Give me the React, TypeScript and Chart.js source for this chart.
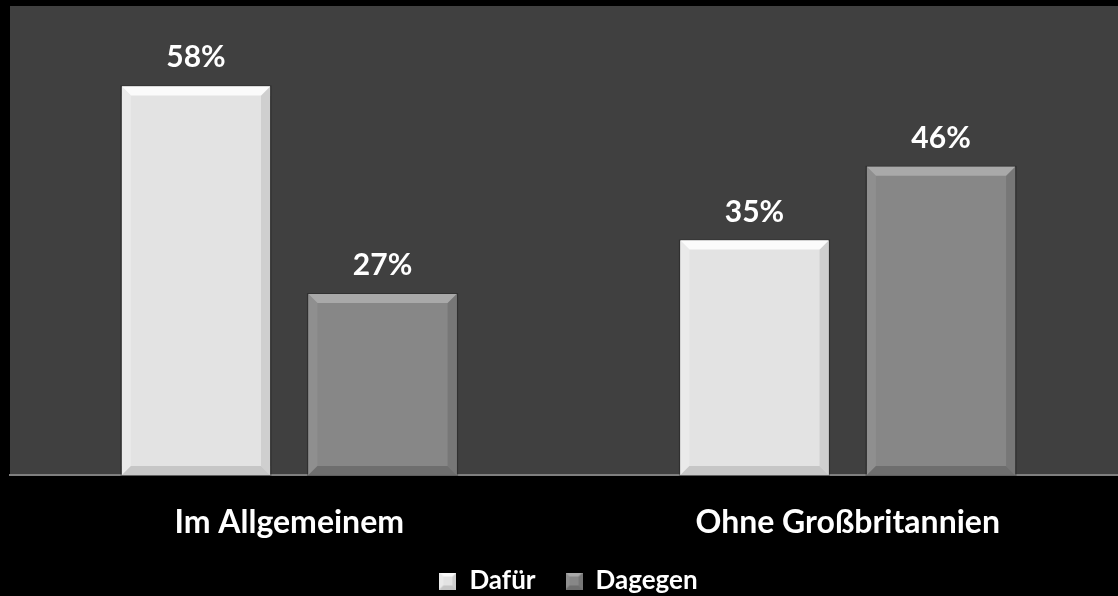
import React, { useEffect, useRef } from "react";
import { Chart, registerables } from "chart.js";

Chart.register(...registerables);

const categories = ["Im Allgemeinem", "Ohne Großbritannien"];
const seriesNames = ["Dafür", "Dagegen"];
const dafuer = [58, 35];
const dagegen = [27, 46];
const yMax = 70;

const FILL = ["#e3e3e3", "#878787"];
const LIGHT = ["#fbfbfb", "#a9a9a9"];
const DARK = ["#c6c6c6", "#6e6e6e"];
const SIDE_L = ["#eaeaea", "#8f8f8f"];
const SIDE_R = ["#cfcfcf", "#777777"];
const FONT = "Lato, 'Open Sans', sans-serif";

function drawBevel(ctx: CanvasRenderingContext2D, x0: number, y0: number, x1: number, y1: number, s: number, b: number) {
  ctx.save();
  ctx.fillStyle = FILL[s];
  ctx.fillRect(x0, y0, x1 - x0, y1 - y0);
  const poly = (pts: number[][], color: string) => {
    ctx.beginPath();
    ctx.moveTo(pts[0][0], pts[0][1]);
    for (let i = 1; i < pts.length; i++) ctx.lineTo(pts[i][0], pts[i][1]);
    ctx.closePath();
    ctx.fillStyle = color;
    ctx.fill();
  };
  const bb = Math.min(b, (x1 - x0) / 2, (y1 - y0) / 2);
  poly([[x0, y0], [x0 + bb, y0 + bb], [x0 + bb, y1 - bb], [x0, y1]], SIDE_L[s]);
  poly([[x1, y0], [x1 - bb, y0 + bb], [x1 - bb, y1 - bb], [x1, y1]], SIDE_R[s]);
  poly([[x0, y0], [x1, y0], [x1 - bb, y0 + bb], [x0 + bb, y0 + bb]], LIGHT[s]);
  poly([[x0, y1], [x1, y1], [x1 - bb, y1 - bb], [x0 + bb, y1 - bb]], DARK[s]);
  ctx.restore();
}

function makeLegendIcon(s: number) {
  const c = document.createElement("canvas");
  c.width = 17;
  c.height = 17;
  const ctx = c.getContext("2d")!;
  drawBevel(ctx, 0, 0, 17, 17, s, 4);
  return c;
}

const bgPlugin = {
  id: "plotBg",
  beforeDraw(chart: any) {
    const { ctx, chartArea } = chart;
    ctx.save();
    ctx.fillStyle = "#000000";
    ctx.fillRect(0, 0, chart.width, chart.height);
    ctx.fillStyle = "#404040";
    ctx.fillRect(chartArea.left, chartArea.top, chartArea.right - chartArea.left, chartArea.bottom - chartArea.top);
    ctx.restore();
  },
};

const bevelPlugin = {
  id: "bevelBars",
  afterDatasetsDraw(chart: any) {
    const { ctx } = chart;
    chart.data.datasets.forEach((ds: any, di: number) => {
      const meta = chart.getDatasetMeta(di);
      meta.data.forEach((bar: any, i: number) => {
        const p = bar.getProps(["x", "y", "base", "width"], true);
        const x0 = p.x - p.width / 2;
        const x1 = p.x + p.width / 2;
        ctx.save();
        ctx.fillStyle = "rgba(0,0,0,0.25)";
        ctx.fillRect(x0 - 1.5, p.y - 1, x1 - x0 + 3, p.base - p.y + 2);
        ctx.restore();
        drawBevel(ctx, x0, p.y, x1, p.base, di, 9);
        ctx.save();
        ctx.font = `bold 30px ${FONT}`;
        ctx.fillStyle = "#ffffff";
        ctx.textAlign = "center";
        ctx.textBaseline = "alphabetic";
        ctx.fillText(`${ds.data[i]}%`, p.x, p.y - 19);
        ctx.restore();
      });
    });
  },
};

export default function App() {
  const ref = useRef<HTMLCanvasElement>(null);
  useEffect(() => {
    if (!ref.current) return;
    const icons = [makeLegendIcon(0), makeLegendIcon(1)];
    const chart = new Chart(ref.current, {
      type: "bar",
      data: {
        labels: categories,
        datasets: [
          { label: seriesNames[0], data: dafuer, backgroundColor: FILL[0], borderWidth: 0 },
          { label: seriesNames[1], data: dagegen, backgroundColor: FILL[1], borderWidth: 0 },
        ],
      },
      options: {
        animation: false,
        responsive: true,
        maintainAspectRatio: false,
        datasets: { bar: { categoryPercentage: 0.668, barPercentage: 0.794 } },
        layout: { padding: { left: 10, top: 6, right: 0, bottom: -8 } },
        scales: {
          x: {
            grid: { display: false, drawTicks: false },
            border: { display: true, color: "#7f7f7f", width: 2 },
            ticks: { color: "#ffffff", font: { family: FONT, size: 32, weight: "bold" }, padding: 28 },
            afterFit: (scale: any) => {
              scale.height = 63;
            },
          },
          y: { display: false, min: 0, max: yMax },
        },
        plugins: {
          tooltip: { enabled: false },
          legend: {
            position: "bottom",
            labels: {
              color: "#ffffff",
              font: { family: FONT, size: 26, weight: "bold" },
              boxWidth: 17,
              boxHeight: 17,
              usePointStyle: true,
              padding: 30,
              generateLabels: () =>
                seriesNames.map((n, i) => ({
                  text: n,
                  pointStyle: icons[i],
                  fillStyle: FILL[i],
                  strokeStyle: FILL[i],
                  lineWidth: 0,
                  hidden: false,
                  datasetIndex: i,
                  fontColor: "#ffffff",
                })),
            },
          },
        },
      },
      plugins: [bgPlugin, bevelPlugin],
    });
    return () => chart.destroy();
  }, []);
  return (
    <div style={{ position: "fixed", left: 0, top: 0, width: 1118, height: 596, background: "#000", overflow: "hidden" }}>
      <div style={{ position: "relative", width: 1127, height: 596 }}>
        <canvas ref={ref} />
      </div>
    </div>
  );
}
